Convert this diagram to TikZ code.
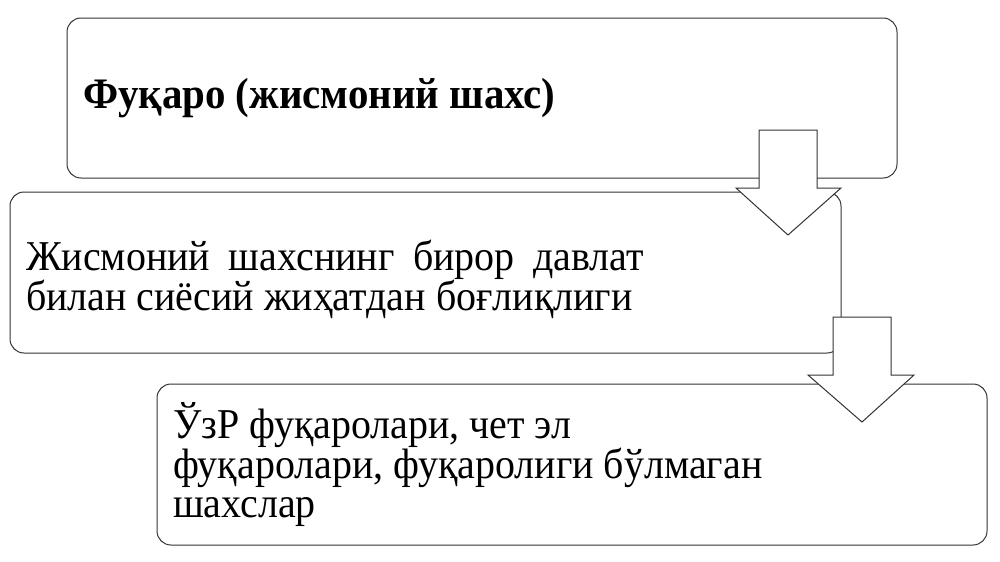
\documentclass[tikz,border=0pt]{standalone}
\usepackage{fontspec}
\setmainfont{Liberation Serif}[FakeStretch=0.94]
\usepackage{tikz}
\usetikzlibrary{shapes}

\tikzset{
  box/.style={draw=black!80, line width=1bp, rounded corners=14bp, fill=white,
    inner xsep=16bp, inner ysep=0bp, align=flush left,
    font=\fontsize{42.5bp}{39bp}\selectfont},
  blockarrow/.style={draw=black!80, line width=1bp, fill=white, line join=miter}
}

\begin{document}
\begin{tikzpicture}
\useasboundingbox (0bp,0bp) rectangle (1000bp,-562bp);

\node (B1) at (482bp,-98bp)[box, minimum width=830bp, minimum height=160bp, text width=798bp] {\fontsize{43.5bp}{39bp}\selectfont\textbf{Фуқаро (жисмоний шахс)}};
\node (B2) at (425.5bp,-272.5bp)[box, minimum width=831bp, minimum height=161bp, text width=799bp] {\parbox[c][84bp][b]{618bp}{\fontsize{42.5bp}{40bp}\selectfont Жисмоний шахснинг бирор давлат билан сиёсий жиҳатдан боғлиқлиги}};
\node (B3) at (572bp,-464.5bp)[box, minimum width=830bp, minimum height=161bp, text width=798bp] {ЎзР фуқаролари, чет эл\\ фуқаролари, фуқаролиги бўлмаган\\ шахслар};

\draw [blockarrow] (759bp,-130bp) -- (817bp,-130bp) -- (817bp,-188bp) -- (841bp,-188bp) -- (788bp,-235bp) -- (736bp,-188bp) -- (759bp,-188bp) -- cycle;
\draw [blockarrow] (833bp,-317bp) -- (891bp,-317bp) -- (891bp,-375bp) -- (914bp,-375bp) -- (862bp,-422bp) -- (808bp,-375bp) -- (833bp,-375bp) -- cycle;
\end{tikzpicture}
\end{document}
